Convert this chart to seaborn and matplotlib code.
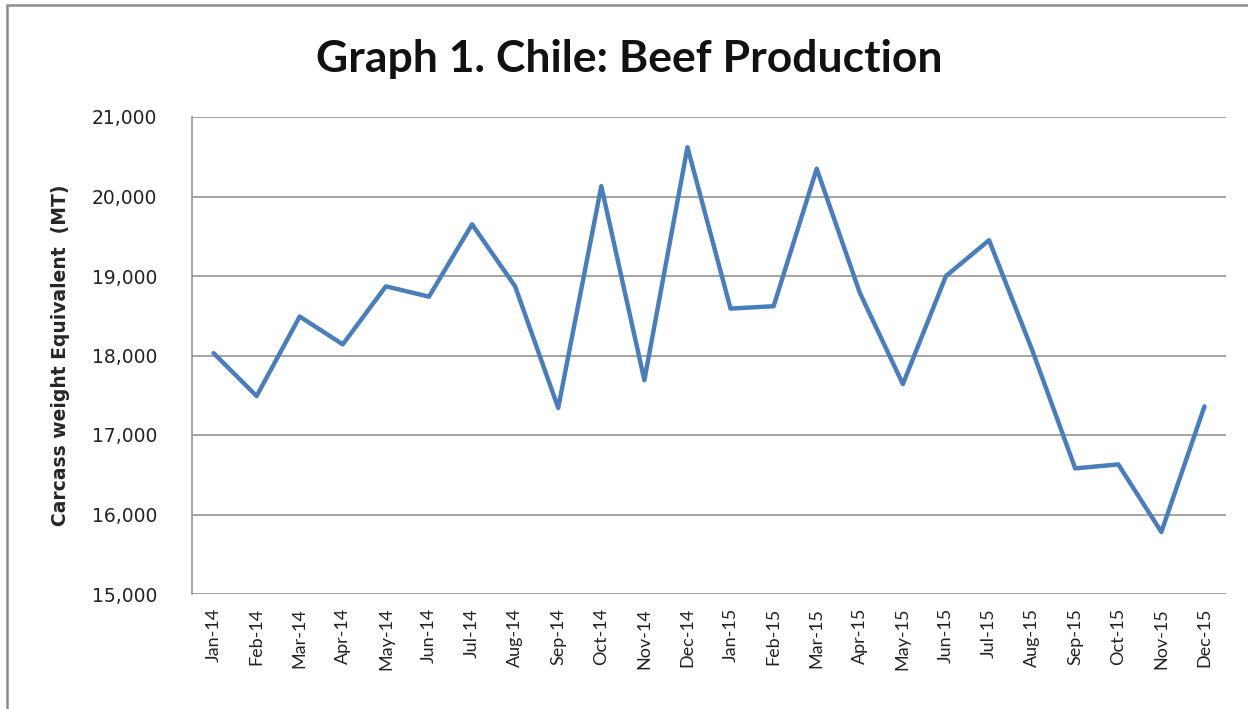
import pandas as pd
import numpy as np

import matplotlib
matplotlib.use("Agg")
import matplotlib.pyplot as plt
import seaborn as sns
from matplotlib.patches import Rectangle
from matplotlib.ticker import FuncFormatter

months = ["Jan-14", "Feb-14", "Mar-14", "Apr-14", "May-14", "Jun-14",
          "Jul-14", "Aug-14", "Sep-14", "Oct-14", "Nov-14", "Dec-14",
          "Jan-15", "Feb-15", "Mar-15", "Apr-15", "May-15", "Jun-15",
          "Jul-15", "Aug-15", "Sep-15", "Oct-15", "Nov-15", "Dec-15"]
production = [18030, 17490, 18490, 18140, 18870, 18740,
              19650, 18870, 17340, 20130, 17690, 20620,
              18590, 18620, 20350, 18790, 17640, 19000,
              19450, 18070, 16580, 16630, 15780, 17360]
y_ticks = [15000, 16000, 17000, 18000, 19000, 20000, 21000]

df = pd.DataFrame({"Month": months, "Production": production})

sns.set_style("white")
plt.rcParams["font.family"] = ["Lato", "DejaVu Sans"]

fig = plt.figure(figsize=(12.48, 7.09), dpi=100)
ax = fig.add_axes([192 / 1248, 1 - 594 / 709, (1226 - 192) / 1248, (594 - 117) / 709])

# outer chart frame (cut off at the right and bottom)
fig.patches.append(Rectangle((7 / 1248, -0.05), 1.2, 1 - 5 / 709 + 0.05,
                             transform=fig.transFigure, fill=False,
                             edgecolor="#8c8c8c", linewidth=1.8))

sns.lineplot(data=df, x="Month", y="Production", sort=False,
             color="#4a7ebb", linewidth=3.2, ax=ax)

ax.set_xlim(-0.5, len(months) - 0.5)
ax.set_ylim(15000, 21000)
ax.set_yticks(y_ticks)
ax.yaxis.set_major_formatter(FuncFormatter(lambda v, p: f"{int(v):,}"))
ax.set_xticks(range(len(months)))
ax.set_xticklabels(months, rotation=90)
for lbl in ax.get_yticklabels():
    lbl.set_family("DejaVu Sans")

ax.grid(axis="y", color="#8a8a8a", linewidth=1.1)
ax.grid(axis="x", visible=False)
for side in ["top", "right", "bottom"]:
    ax.spines[side].set_visible(False)
ax.spines["left"].set_color("#8a8a8a")
ax.spines["left"].set_linewidth(1.1)

ax.tick_params(axis="y", length=0, pad=25, labelsize=13.5, labelcolor="#222222")
ax.tick_params(axis="x", length=0, pad=10, labelsize=13, labelcolor="#222222")

ax.set_xlabel("")
ax.set_ylabel("Carcass weight Equivalent  (MT)", fontsize=13.5,
              fontweight="bold", family="DejaVu Sans")
ax.yaxis.set_label_coords((70 - 192) / 1034, 0.5)

fig.text(0.504, 1 - 72 / 709, "Graph 1. Chile: Beef Production", ha="center",
         va="baseline", fontsize=32, fontweight="bold", color="#111111")

fig.savefig("out.png", dpi=100)
